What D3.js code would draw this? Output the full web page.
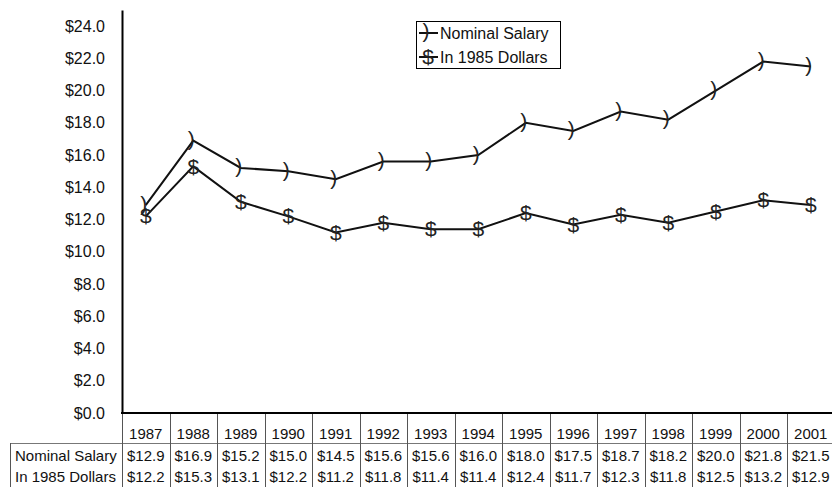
<!DOCTYPE html>
<html>
<head>
<meta charset="utf-8">
<script src="https://cdn.jsdelivr.net/npm/d3@7/dist/d3.min.js"></script>
<style>
  html, body { margin: 0; padding: 0; background: #fff; }
  svg { display: block; font-family: "Liberation Sans", Arial, sans-serif; }
</style>
</head>
<body>
<svg id="chart" width="832" height="487"></svg>
<script>
// Average salary per year, nominal and in constant 1985 dollars
const years = ["1987","1988","1989","1990","1991","1992","1993","1994","1995","1996","1997","1998","1999","2000","2001"];
const nominal = [12.9, 16.9, 15.2, 15.0, 14.5, 15.6, 15.6, 16.0, 18.0, 17.5, 18.7, 18.2, 20.0, 21.8, 21.5];
const real1985 = [12.2, 15.3, 13.1, 12.2, 11.2, 11.8, 11.4, 11.4, 12.4, 11.7, 12.3, 11.8, 12.5, 13.2, 12.9];
const yTicks = [0, 2, 4, 6, 8, 10, 12, 14, 16, 18, 20, 22, 24];
const seriesNames = ["Nominal Salary", "In 1985 Dollars"];
const seriesMarks = [")", "$"];

const svg = d3.select("#chart");
const plotLeft = 122, plotTop = 10, plotBottom = 413, colW = 47.5;
const plotRight = plotLeft + colW * years.length;

const x = d3.scaleBand().domain(years).range([plotLeft, plotRight]);
const y = d3.scaleLinear().domain([0, 25]).range([plotBottom, plotTop]);
const money = v => "$" + d3.format(".1f")(v);

// Value axis (labels only, heavy axis line)
const yAxis = svg.append("g")
  .attr("transform", `translate(${plotLeft},0)`)
  .call(d3.axisLeft(y).tickValues(yTicks).tickSize(0).tickPadding(17).tickFormat(money));
yAxis.select(".domain").attr("stroke", "#000").attr("stroke-width", 2);
yAxis.selectAll("text").attr("font-size", 16).attr("fill", "#111")
  .attr("font-family", "'Liberation Sans', Arial, sans-serif");

// Data table below the plot
const fs = 15;
const rowBase = [439, 461, 482];
const table = svg.append("g");
const grid = "#555";
// horizontal rule under the year row
table.append("line").attr("x1", 10).attr("x2", plotRight).attr("y1", 443.5).attr("y2", 443.5)
  .attr("stroke", "#777").attr("stroke-width", 1);
// left border of the row-label column
table.append("line").attr("x1", 10.5).attr("x2", 10.5).attr("y1", 443).attr("y2", 487)
  .attr("stroke", grid).attr("stroke-width", 1);
// column separators
table.selectAll("line.col").data(years).enter().append("line")
  .attr("class", "col")
  .attr("x1", d => Math.round(x(d)) + 0.5).attr("x2", d => Math.round(x(d)) + 0.5)
  .attr("y1", plotBottom).attr("y2", 487)
  .attr("stroke", grid).attr("stroke-width", 1);
table.append("line").attr("x1", Math.round(plotRight) - 0.5).attr("x2", Math.round(plotRight) - 0.5)
  .attr("y1", plotBottom).attr("y2", 487).attr("stroke", grid);

// year headings
table.selectAll("text.yr").data(years).enter().append("text")
  .attr("class", "yr")
  .attr("x", d => x(d) + x.bandwidth() / 2).attr("y", rowBase[0])
  .attr("text-anchor", "middle").attr("font-size", fs).attr("fill", "#111")
  .text(d => d);

[nominal, real1985].forEach((vals, i) => {
  table.append("text").attr("x", 15).attr("y", rowBase[i + 1])
    .attr("font-size", fs).attr("fill", "#111").text(seriesNames[i]);
  table.selectAll("text.v" + i).data(vals).enter().append("text")
    .attr("class", "v" + i)
    .attr("x", (d, j) => x(years[j]) + x.bandwidth() / 2).attr("y", rowBase[i + 1])
    .attr("text-anchor", "middle").attr("font-size", fs).attr("fill", "#111")
    .text(d => money(d));
});

// Category axis line
svg.append("line").attr("x1", plotLeft - 1).attr("x2", plotRight).attr("y1", plotBottom).attr("y2", plotBottom)
  .attr("stroke", "#000").attr("stroke-width", 2);

// Series lines with character markers
const markSize = 21;
// vertical offset (in em) that centers each glyph on its point
const markDy = [0.26, 0.34];
const markDx = [-2, 0];
const line = d3.line().x((d, j) => x(years[j]) + x.bandwidth() / 2).y(d => y(d));

[nominal, real1985].forEach((vals, i) => {
  svg.append("path").datum(vals).attr("d", line)
    .attr("fill", "none").attr("stroke", "#111").attr("stroke-width", 2)
    .attr("stroke-linejoin", "miter");
  svg.selectAll("text.m" + i).data(vals).enter().append("text")
    .attr("class", "m" + i)
    .attr("x", (d, j) => x(years[j]) + x.bandwidth() / 2 + markDx[i])
    .attr("y", d => y(d)).attr("dy", markDy[i] + "em")
    .attr("text-anchor", "middle").attr("font-size", markSize).attr("fill", "#222")
    .text(seriesMarks[i]);
});

// Legend
const lg = svg.append("g");
lg.append("rect").attr("x", 416.5).attr("y", 21.5).attr("width", 144).attr("height", 47)
  .attr("fill", "#fff").attr("stroke", "#000").attr("stroke-width", 1);
const legendY = [33, 57];
seriesNames.forEach((name, i) => {
  lg.append("line").attr("x1", 419).attr("x2", 438).attr("y1", legendY[i]).attr("y2", legendY[i])
    .attr("stroke", "#111").attr("stroke-width", 2);
  lg.append("text").attr("x", 428 + markDx[i]).attr("y", legendY[i]).attr("dy", markDy[i] + "em")
    .attr("text-anchor", "middle").attr("font-size", markSize).attr("fill", "#222")
    .text(seriesMarks[i]);
  lg.append("text").attr("x", 440).attr("y", legendY[i] + 6)
    .attr("font-size", 16).attr("fill", "#111").text(name);
});
</script>
</body>
</html>
